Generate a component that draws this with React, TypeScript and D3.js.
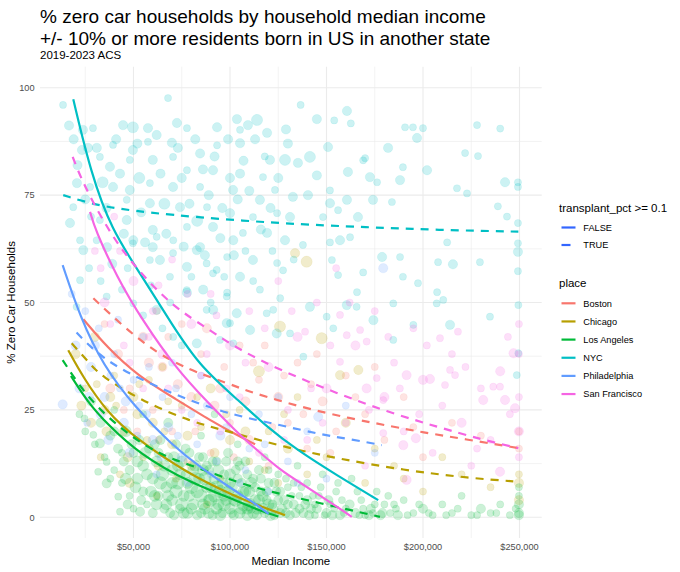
import React from "react";
import * as d3 from "d3";

// places and ggplot hue colours
const places = ["Boston", "Chicago", "Los Angeles", "NYC", "Philadelphia", "San Francisco"];
const placeColors = ["#F8766D", "#B79F00", "#00BA38", "#00BFC4", "#619CFF", "#F564E3"];

const xTicks = [50, 100, 150, 200, 250]; // $k
const xMinor = [25, 75, 125, 175, 225];
const yTicks = [0, 25, 50, 75, 100];
const yMinor = [12.5, 37.5, 62.5, 87.5];

// tract points: [median income $k, % zero car, size class]
type Pt = [number, number, number];

const bostonPts: Pt[] = [
  [35, 45, 2], [42, 38, 3], [48, 30, 2], [55, 42, 3], [60, 25, 2], [65, 35, 3], [70, 20, 2], [75, 45, 2],
  [80, 28, 3], [85, 38, 2], [90, 15, 2], [95, 30, 3], [100, 22, 2], [105, 40, 2], [110, 18, 3], [115, 32, 2],
  [120, 12, 2], [125, 28, 3], [130, 22, 2], [135, 36, 2], [140, 16, 2], [148, 27, 3], [155, 20, 2], [160, 33, 2],
  [170, 24, 2], [180, 18, 2], [190, 28, 2], [200, 14, 2], [215, 22, 2], [230, 19, 2], [249.7, 16, 2], [249.7, 20, 2],
  [62, 48, 2], [88, 44, 3], [118, 40, 2], [142, 31, 2], [52, 20, 2], [78, 13, 2],
  [38, 30, 3], [45, 25, 2], [58, 36, 3], [63, 18, 2], [68, 42, 2], [73, 31, 3], [82, 20, 2], [92, 26, 3],
  [97, 35, 2], [102, 14, 2], [108, 27, 3], [112, 36, 2], [122, 21, 2], [128, 33, 2], [138, 24, 2], [145, 38, 2],
  [152, 15, 2], [165, 28, 2], [175, 35, 2], [195, 21, 2]
];

const chicagoPts: Pt[] = [
  [20, 38, 3], [25, 30, 2], [30, 42, 3], [35, 25, 3], [40, 33, 2], [45, 20, 3], [50, 28, 3], [55, 14, 2],
  [60, 22, 3], [65, 35, 2], [70, 17, 3], [75, 26, 2], [80, 12, 3], [85, 21, 2], [90, 30, 3], [95, 9, 2],
  [100, 18, 3], [105, 25, 2], [110, 13, 2], [115, 34, 4], [120, 20, 2], [125, 8, 2], [130, 16, 3], [135, 28, 2],
  [140, 10, 2], [150, 14, 2], [160, 22, 3], [170, 8, 2], [185, 12, 2], [200, 6, 2], [220, 10, 2],
  [249.7, 4, 3], [249.7, 8, 3], [249.7, 10, 2], [139.7, 59.5, 4], [133.7, 61.5, 3], [125.9, 44.4, 4],
  [147.5, 41.7, 4], [166.5, 34.3, 3], [157, 33.1, 3], [48, 8, 3], [62, 5, 2], [88, 3, 2],
  [28, 22, 3], [33, 14, 2], [38, 28, 3], [43, 10, 2], [52, 24, 3], [58, 32, 2], [63, 12, 3], [68, 27, 2],
  [72, 9, 2], [78, 19, 3], [83, 28, 2], [92, 15, 3], [98, 24, 2], [108, 20, 3], [118, 11, 2], [128, 24, 2],
  [145, 18, 2], [175, 16, 2], [190, 9, 2], [210, 14, 2], [235, 7, 2],
  [23, 26, 3], [31, 31, 2], [36, 20, 3], [41, 26, 2], [47, 14, 3], [53, 31, 2], [57, 18, 2], [66, 20, 2]
];

const laPts: Pt[] = [
  [22, 24, 2], [25, 20, 2], [28, 27, 3], [30, 17, 2], [33, 22, 3], [35, 14, 2], [38, 19, 3], [40, 11, 2],
  [40, 25, 2], [42, 16, 3], [44, 8, 2], [45, 13, 3], [46, 20, 4], [48, 5, 2], [48, 11, 3], [50, 15, 3],
  [50, 2, 2], [52, 9, 4], [53, 18, 3], [55, 12, 4], [55, 6, 3], [57, 3, 2], [58, 16, 3], [60, 9, 4],
  [60, 1, 3], [62, 13, 4], [63, 5, 3], [64, 18, 3], [65, 10, 5], [66, 2, 3], [67, 7, 4], [68, 14, 3],
  [70, 4, 4], [70, 11, 4], [71, 0.5, 3], [72, 17, 3], [73, 8, 5], [74, 2, 3], [75, 13, 4], [76, 5, 4],
  [77, 10, 3], [78, 1, 4], [79, 15, 3], [80, 7, 5], [81, 3, 4], [82, 12, 4], [83, 0.5, 3], [84, 9, 4],
  [85, 5, 5], [86, 14, 3], [87, 2, 4], [88, 7, 4], [89, 11, 3], [90, 4, 5], [91, 0.5, 3], [92, 9, 4],
  [93, 13, 3], [94, 3, 4], [95, 6, 5], [96, 1, 3], [97, 10, 3], [98, 4, 4], [99, 15, 3], [100, 2, 4],
  [101, 7, 4], [102, 0.5, 3], [103, 11, 3], [104, 5, 4], [105, 1, 4], [106, 8, 3], [107, 3, 5], [108, 13, 3],
  [109, 0.5, 4], [110, 6, 4], [111, 2, 3], [112, 9, 3], [113, 4, 4], [114, 0.5, 3], [115, 11, 3], [116, 6, 3],
  [117, 2, 4], [118, 14, 2], [119, 4, 3], [120, 8, 3], [121, 0.5, 4], [122, 3, 3], [124, 6, 3], [125, 10, 2],
  [126, 1, 3], [128, 4, 3], [130, 7, 2], [131, 0.5, 3], [133, 3, 3], [135, 12, 2], [136, 5, 2], [138, 1, 3],
  [140, 8, 2], [142, 2, 3], [144, 0.5, 2], [146, 5, 2], [148, 10, 2], [150, 1, 3], [152, 3, 2], [155, 6, 2],
  [157, 0.5, 3], [160, 2, 2], [163, 9, 2], [165, 1, 3], [168, 4, 2], [170, 0.5, 2], [173, 2, 3], [176, 6, 2],
  [178, 0.5, 3], [180, 3, 2], [183, 1, 2], [187, 0.5, 3], [190, 4, 2], [195, 1, 2], [200, 2, 3], [205, 0.5, 2],
  [210, 3, 2], [215, 1, 2], [220, 5, 2], [225, 0.5, 2], [230, 2, 3], [235, 1, 2], [240, 3, 2], [245, 0.5, 2],
  [249.7, 1, 3], [249.7, 3, 3], [249.7, 5, 2], [249.7, 7, 2], [249.7, 0.5, 3],
  [24.6, 23, 2], [29.2, 19.2, 2], [32.6, 17.2, 3], [36.1, 12.9, 2], [31.7, 10.6, 2], [36.1, 7.9, 3],
  [42.1, 4.8, 2], [43, 1.3, 2], [53.4, 1.3, 3], [55, 24, 2], [68, 22, 3], [85, 19, 2], [92, 24, 2], [104, 17, 2],
  [47, 3, 3], [49, 17, 3], [51, 7, 4], [54, 4, 3], [56, 15, 4], [59, 6, 4], [61, 17, 3], [62, 3, 4],
  [64, 8, 5], [66, 12, 4], [68, 5, 4], [69, 1, 3], [71, 14, 4], [72, 6, 5], [74, 10, 4], [75, 3, 5],
  [77, 16, 3], [78, 8, 4], [80, 2, 4], [81, 11, 4], [83, 6, 5], [84, 14, 3], [86, 3, 4], [87, 9, 5],
  [88, 12, 3], [89, 1, 4], [90, 7, 4], [92, 5, 5], [93, 2, 4], [94, 11, 4], [96, 8, 4], [97, 3, 5],
  [98, 13, 3], [99, 6, 4], [100, 10, 4], [101, 1, 3], [103, 4, 5], [104, 9, 3], [105, 12, 3], [106, 2, 4],
  [108, 6, 4], [109, 10, 3], [110, 3, 5], [112, 1, 4], [113, 7, 3], [115, 4, 4], [116, 9, 3], [118, 1, 3],
  [119, 6, 3], [120, 11, 2], [122, 2, 4], [123, 8, 3], [125, 4, 3], [127, 2, 3], [129, 9, 2], [130, 3, 3],
  [132, 5, 2], [134, 1, 3], [137, 7, 2], [139, 3, 3], [141, 0.5, 3], [143, 5, 2], [145, 2, 3], [147, 7, 2],
  [149, 0.5, 2], [151, 4, 3], [154, 2, 2], [156, 8, 2], [159, 1, 2], [162, 3, 3], [166, 6, 2], [169, 2, 2],
  [172, 0.5, 3], [175, 3, 2], [179, 1, 3], [182, 5, 2], [186, 2, 2], [192, 0.5, 2], [198, 3, 2], [203, 1, 2],
  [212, 0.5, 2], [218, 2, 2], [228, 0.5, 2], [238, 1, 2], [248, 2, 2],
  [46, 9, 4], [52, 13, 4], [57, 10, 4], [61, 5, 4], [63, 15, 3], [67, 3, 4], [70, 8, 4], [73, 12, 4],
  [76, 1, 4], [79, 5, 4], [82, 9, 5], [85, 1, 3], [86, 11, 4], [89, 4, 4], [91, 13, 3], [93, 7, 5],
  [95, 0.5, 4], [97, 5, 4], [100, 8, 4], [102, 4, 4], [104, 13, 3], [107, 6, 4], [109, 2, 4], [111, 8, 4],
  [114, 2, 4], [117, 5, 4], [120, 3, 4], [123, 0.5, 3], [126, 6, 3], [129, 1, 3], [133, 8, 2], [136, 2, 3],
  [140, 4, 3], [144, 3, 2], [153, 0.5, 3], [158, 4, 2], [167, 0.5, 2], [174, 1, 2], [185, 3, 2], [40, 20, 3],
  [44, 15, 2], [38, 9, 2]
];

const nycPts: Pt[] = [
  [16.6, 91.2, 3], [23.8, 90.2, 3], [29, 90.6, 2], [44.6, 91.3, 3], [49.7, 90.8, 4], [57.5, 90.6, 3], [67.9, 97.6, 2],
  [72.5, 91.8, 3], [77.7, 90.6, 2], [93.3, 90.8, 3], [103.6, 92.7, 3], [109.3, 91.3, 3], [114, 92.5, 4], [119.2, 89.5, 3],
  [105.2, 90.2, 2], [69.9, 87.2, 3], [57.5, 87.4, 2], [49.7, 85.5, 3], [39.4, 86.7, 2], [26.4, 86, 3], [23.3, 85.5, 3],
  [32.6, 83.9, 2], [37.8, 81.6, 3], [48.1, 83.2, 2], [60, 83.2, 3], [70.5, 83.9, 2], [84.5, 84.7, 3], [93.3, 86.6, 2],
  [105.2, 87.1, 3], [120.7, 83.2, 3], [77.7, 80.8, 2], [91.2, 80.8, 3], [105.2, 80, 3], [117.1, 79.2, 2], [20.7, 77.8, 3],
  [27.5, 76.9, 2], [39.4, 76.9, 3], [48.1, 76.2, 3], [58.5, 77.8, 2], [70.5, 76.9, 3], [84.5, 76.9, 2], [101.6, 76.2, 3],
  [115.5, 73.9, 3], [46.5, 73.9, 2], [58.5, 73.1, 3], [74.1, 72.2, 3], [88.1, 72.2, 2], [100, 70.8, 3], [111.9, 69.9, 2],
  [18.8, 72.2, 2], [17.1, 68.5, 3], [32.6, 69.2, 2], [46.5, 69.2, 3], [60, 66.9, 3], [77.7, 67.6, 2], [91.2, 67.6, 3],
  [106.7, 66.2, 2], [119.2, 66.2, 3], [22.3, 64.5, 2], [36.3, 62.9, 3], [49.7, 63.8, 2], [60, 62.9, 3], [70.5, 61.5, 2],
  [84.5, 62.9, 3], [98.5, 60.6, 2], [111.9, 59.9, 3], [124.4, 59.2, 2], [58.5, 59.9, 2], [77.7, 58.3, 3], [91.2, 56.8, 2],
  [105.2, 56, 3], [68.9, 56, 2], [86.1, 53, 3], [98.5, 52.3, 2], [115.5, 53, 2], [77.7, 52.3, 3],
  [93.1, 57.6, 2], [82.8, 62.2, 3], [98.3, 51.4, 2], [91.3, 48.3, 3], [100, 45.2, 2], [77.6, 52.9, 2], [63.7, 59.9, 3],
  [70.6, 64.5, 2], [62, 65.3, 2], [49.9, 64.5, 3], [30.9, 64.5, 2], [24, 62.2, 3], [22.3, 55.2, 2], [20.5, 49, 2],
  [49.9, 49.8, 2], [62, 48.3, 3], [36.1, 51.4, 2], [70.6, 42, 2], [82.8, 40.5, 3], [94.8, 41.3, 2], [103.5, 47.5, 3],
  [87.9, 59.1, 2], [101.7, 64.5, 3], [87.9, 48.3, 2], [98.3, 45.2, 3], [101.7, 40.5, 2], [110.4, 43.6, 3], [119, 47.5, 2],
  [124.2, 42.8, 3], [131.1, 42.8, 2], [141.4, 49, 3], [150.1, 46.7, 2], [153.5, 44, 2], [160.5, 49.4, 3], [165.6, 49, 2],
  [184.6, 49.8, 2], [174.3, 45.9, 3], [122.4, 48.3, 2], [138, 37.4, 2], [184.6, 41.3, 2], [195, 44.8, 2], [214, 44.8, 3],
  [234.7, 46.7, 2], [249.4, 49.4, 2], [249.4, 38.2, 2], [248.6, 33.1, 2], [207.1, 49.8, 2], [210.5, 50.6, 2],
  [136.6, 96, 2], [145, 92.7, 3], [160.6, 94.6, 3], [154, 92.4, 2], [162.6, 91.7, 2], [129, 90.3, 3], [190.7, 90.8, 2],
  [194.8, 90.8, 2], [196.9, 88.3, 3], [200, 90.6, 2], [181.9, 86, 3], [221.8, 84.8, 2], [228.5, 84.1, 2], [242.5, 78, 3],
  [249.2, 78, 2], [249.2, 76.9, 2], [217.6, 76.6, 2], [222.8, 75.4, 2], [238.8, 72.4, 2], [243.5, 70, 2], [249.2, 68.5, 2],
  [249.2, 63.8, 2], [249.2, 61.8, 3], [249.2, 57.3, 2], [215.5, 58.9, 3], [229.5, 59.4, 2], [207.8, 59.4, 2], [212.5, 64, 2],
  [202.1, 80.8, 3], [189.6, 81.5, 2], [188.1, 78.5, 3], [169, 83.1, 2], [161.1, 80.4, 3], [172.5, 79.2, 3], [176.2, 78, 2],
  [183.9, 73.4, 2], [174.1, 73.9, 3], [170, 83.6, 2], [150.8, 86.2, 3], [141.4, 83.9, 4], [135.2, 82.5, 3], [128.5, 83.2, 4],
  [145, 79.6, 3], [151.8, 76.1, 2], [151.8, 73.1, 3], [156, 71.5, 2], [160.6, 73.9, 3], [166.3, 69.9, 3], [132.6, 74.6, 3],
  [140.4, 75, 3], [123.3, 76.2, 2], [151.8, 64, 2], [157, 64.5, 3], [162.2, 65.2, 2], [152.8, 59.9, 2], [156, 56.4, 2],
  [165.8, 52.4, 2], [169, 57, 2], [178.8, 60.6, 3], [188.1, 60.6, 2], [189.6, 56, 2], [197.4, 54.5, 2], [207.3, 52.4, 2],
  [127.5, 57.5, 2], [128.5, 64.5, 3], [137.8, 63.4, 2], [148.2, 69.9, 2], [131.1, 69.9, 3], [124.4, 70.8, 2],
  [228, 91.3, 2], [240, 90.5, 2], [13.5, 96, 2],
  [19, 88, 3], [21, 82, 3], [25, 74, 3], [28, 70, 2], [31, 86, 3], [34, 78, 4], [36, 72, 3], [41, 88, 3],
  [43, 80, 3], [45, 66, 3], [47, 58, 2], [52, 87, 3], [53, 79, 4], [54, 71, 3], [56, 64, 3], [59, 54, 2],
  [62, 89, 3], [64, 80, 3], [66, 73, 4], [67, 66, 3], [69, 50, 2], [73, 86, 3], [75, 79, 3], [76, 63, 3],
  [79, 73, 3], [80, 56, 2], [82, 88, 3], [83, 69, 4], [86, 81, 3], [87, 61, 3], [89, 75, 3], [90, 50, 2],
  [92, 84, 3], [95, 65, 3], [96, 72, 3], [97, 56, 2], [99, 88, 3], [100, 79, 3], [102, 61, 3], [104, 74, 3],
  [107, 83, 3], [108, 62, 2], [110, 76, 3], [112, 55, 2], [113, 88, 3], [116, 67, 3], [118, 84, 2], [121, 72, 3],
  [122, 62, 2], [125, 79, 3], [126, 51, 2], [130, 87, 3], [133, 60, 2], [27, 58, 2], [33, 55, 2], [39, 59, 3],
  [44, 53, 2], [55, 47, 2], [65, 44, 2], [75, 40, 2]
];

const phillyPts: Pt[] = [
  [13.3, 26.3, 3], [20, 40, 3], [25, 48, 2], [28, 35, 3], [32, 44, 2], [35, 28, 3], [40, 38, 2], [45, 22, 3],
  [50, 32, 2], [55, 42, 2], [60, 18, 3], [65, 28, 2], [70, 36, 2], [75, 14, 3], [80, 24, 2], [85, 33, 2],
  [90, 10, 2], [95, 19, 3], [100, 28, 2], [105, 8, 2], [110, 16, 2], [115, 24, 2], [120, 6, 2], [130, 13, 2],
  [140, 20, 2], [150, 9, 2], [160, 26, 2], [175, 15, 2], [179.4, 58, 3], [145.7, 23.4, 3], [18, 52, 2], [42, 46, 2],
  [22, 30, 3], [26, 22, 2], [30, 40, 3], [37, 18, 3], [43, 30, 2], [48, 15, 3], [53, 26, 2], [58, 35, 2],
  [62, 10, 2], [68, 21, 3], [72, 30, 2], [78, 8, 2], [83, 17, 2], [88, 26, 2], [93, 13, 2], [98, 21, 2],
  [108, 11, 2], [118, 17, 2], [125, 28, 2], [135, 8, 2],
  [27, 28, 3], [33, 24, 3], [38, 33, 2], [46, 27, 3], [52, 19, 2], [57, 24, 2], [64, 14, 2], [73, 19, 2]
];

const sfPts: Pt[] = [
  [30, 62, 2], [35, 50, 3], [40, 70, 2], [45, 40, 2], [50, 55, 3], [55, 30, 2], [60, 48, 2], [65, 38, 3],
  [70, 60, 2], [75, 25, 2], [80, 45, 3], [85, 33, 2], [90, 52, 2], [95, 20, 2], [100, 40, 3], [105, 28, 2],
  [110, 48, 2], [115, 15, 2], [120, 35, 3], [125, 55, 2], [130, 25, 2], [135, 42, 3], [140, 18, 2], [145, 50, 2],
  [150, 30, 3], [155, 58, 2], [160, 22, 2], [165, 40, 3], [170, 12, 2], [175, 48, 2], [180, 28, 3], [185, 36, 2],
  [190, 20, 2], [195, 44, 2], [200, 32, 3], [205, 15, 2], [210, 26, 2], [215, 38, 2], [220, 22, 3], [225, 12, 2],
  [230, 30, 2], [235, 18, 2], [240, 34, 3], [245, 24, 2], [249.7, 20, 3], [249.7, 28, 2], [249.7, 38, 2],
  [249.7, 45, 2], [249.7, 14, 2], [191.5, 33.1, 3], [203.6, 32.2, 3], [211.4, 30.8, 2], [216.6, 33.1, 2],
  [231.2, 27.3, 3], [236.4, 30.4, 2], [239.9, 30.4, 2], [242.5, 27.3, 3], [247.7, 25.4, 3], [246.9, 38.2, 3],
  [239.9, 10.6, 3], [214, 34.3, 2], [208.8, 41.7, 2], [218.1, 43.2, 2], [196.3, 18.4, 3], [191.5, 8.7, 3],
  [179.4, 27.3, 2], [170.8, 30, 3], [179.4, 19.6, 2], [189.8, 16.8, 3], [157, 36.2, 2], [176, 32.4, 2],
  [160.5, 42.4, 2], [167.4, 43.6, 2], [170.8, 40.9, 2], [138.9, 43.2, 2], [157, 47.1, 2],
  [33, 58, 2], [38, 45, 2], [43, 62, 2], [48, 36, 2], [58, 42, 2], [63, 54, 2], [68, 30, 2], [78, 52, 2],
  [83, 22, 2], [88, 38, 2], [93, 47, 2], [98, 30, 2], [108, 36, 2], [118, 44, 2], [128, 18, 2], [132, 48, 2],
  [142, 30, 2], [148, 22, 2], [152, 40, 2], [162, 50, 2], [172, 25, 2], [182, 42, 2], [188, 30, 2], [198, 24, 2],
  [202, 40, 2], [222, 35, 2], [228, 16, 2], [244, 42, 2]
];

const pointSets: Pt[][] = [bostonPts, chicagoPts, laPts, nycPts, phillyPts, sfPts];

// geom_smooth curves: [median income $k, % zero car]
const bostonFalse: [number, number][] = [[24, 46.1], [36.5, 39.5], [52, 33], [72, 27.5], [90, 22.5], [103, 19.3], [113, 17]];
const bostonTrue: [number, number][] = [[29.2, 51], [44.7, 44.4], [62, 38.2], [79.3, 34.3], [91.3, 32.4], [103.5, 30.4], [110.4, 29.2], [136.3, 25.7], [162.2, 23], [184.6, 21.1], [198.4, 19.9], [224.3, 18], [249.4, 16.1]];
const chicagoFalse: [number, number][] = [[16.2, 38.9], [24, 32.5], [36.1, 24.6], [51, 18.4], [78, 10.2], [103, 4.8], [118, 2.2], [128.5, 0.5]];
const chicagoTrue: [number, number][] = [[18, 40.5], [27.4, 35.8], [32.6, 33.1], [53.4, 27.3], [79.3, 22.3], [100, 19.9], [127.6, 16.4], [155.3, 13.7], [189.8, 11], [224.3, 9.1], [249.4, 8.3]];
const laFalse: [number, number][] = [[17.6, 32.9], [26, 27], [36.1, 21.8], [53.4, 14.6], [79.3, 8], [105.2, 3.6], [115.5, 1.5], [125, 0.2]];
const laTrue: [number, number][] = [[13.3, 36.6], [29.2, 25.7], [58.6, 15.3], [79.3, 12.2], [105.2, 7.9], [120.7, 6], [146.6, 3.3], [177.7, 0.1]];
const nycFalse: [number, number][] = [[18.8, 97.3], [28, 80], [38.7, 66.9], [53.4, 56.8], [70.6, 44.4], [84.5, 35.1], [105.2, 26.9], [119, 21.1], [134.6, 15.7], [155.3, 9.8], [176.8, 4]];
const nycTrue: [number, number][] = [[13.6, 75], [32.6, 72.3], [67.2, 70.4], [125, 68.4], [172.5, 67.5], [207.1, 66.9], [249.4, 66.5]];
const phillyFalse: [number, number][] = [[13.3, 58.7], [22.3, 46.7], [34, 35.5], [51, 25.5], [70, 16.8], [85, 11.5], [102, 6.3], [112, 3.5], [120, 0.8]];
const phillyTrue: [number, number][] = [[20.5, 43], [30.9, 38.2], [46.5, 33.5], [79.3, 27], [103.5, 23.6], [125.9, 21.5], [146.6, 19.3], [162.2, 18.2], [178.6, 16.8]];
const sfFalse: [number, number][] = [[27.5, 71.1], [30.1, 67], [41.3, 56], [55.1, 45.5], [72.4, 34.5], [87.9, 27], [103.5, 19.8], [112.1, 16.4], [125.9, 11], [138, 7.6], [155.3, 2.5], [163.1, 0.1]];
const sfTrue: [number, number][] = [[18.5, 83.9], [23.8, 77.7], [38.7, 65.3], [53.4, 56.9], [70.6, 49], [89.6, 43.6], [103.5, 39.3], [127.6, 33.9], [155.3, 28.9], [181.2, 24.6], [207.1, 21.1], [231.2, 18], [249.4, 16.1]];

const fits = [
  { place: 0, dashed: false, pts: bostonFalse }, { place: 0, dashed: true, pts: bostonTrue },
  { place: 1, dashed: false, pts: chicagoFalse }, { place: 1, dashed: true, pts: chicagoTrue },
  { place: 2, dashed: false, pts: laFalse }, { place: 2, dashed: true, pts: laTrue },
  { place: 3, dashed: false, pts: nycFalse }, { place: 3, dashed: true, pts: nycTrue },
  { place: 4, dashed: false, pts: phillyFalse }, { place: 4, dashed: true, pts: phillyTrue },
  { place: 5, dashed: false, pts: sfFalse }, { place: 5, dashed: true, pts: sfTrue },
];

const W = 680;
const H = 572;
const panel = { left: 40, right: 541.7, top: 66.7, bottom: 538 };
const font = "'Liberation Sans', Arial, Helvetica, sans-serif";

export default function App() {
  const x = d3.scaleLinear().domain([1.56, 261.5]).range([panel.left, panel.right]);
  const y = d3.scaleLinear().domain([-4.82, 104.9]).range([panel.bottom, panel.top]);
  const r = d3.scaleSqrt().domain([1, 5]).range([2.2, 6.4]);
  const line = d3.line<[number, number]>().x(d => x(d[0])).y(d => y(d[1])).curve(d3.curveBasis);
  const dollars = d3.format("$,");

  return (
    <div style={{ position: "absolute", left: 0, top: 0 }}>
      <svg width={W} height={H} style={{ display: "block", background: "#fff" }} fontFamily={font}>
        {/* grid */}
        <g>
          {xMinor.map(v => (
            <line key={"xm" + v} x1={x(v)} x2={x(v)} y1={panel.top} y2={panel.bottom} stroke="#EBEBEB" strokeWidth={0.6} />
          ))}
          {yMinor.map(v => (
            <line key={"ym" + v} x1={panel.left} x2={panel.right} y1={y(v)} y2={y(v)} stroke="#EBEBEB" strokeWidth={0.6} />
          ))}
          {xTicks.map(v => (
            <line key={"x" + v} x1={x(v)} x2={x(v)} y1={panel.top} y2={panel.bottom} stroke="#EBEBEB" strokeWidth={1.1} />
          ))}
          {yTicks.map(v => (
            <line key={"y" + v} x1={panel.left} x2={panel.right} y1={y(v)} y2={y(v)} stroke="#EBEBEB" strokeWidth={1.1} />
          ))}
        </g>

        {/* points */}
        <g>
          {pointSets.map((set, i) =>
            set.map((p, j) => (
              <circle key={i + "-" + j} cx={x(p[0])} cy={y(p[1])} r={r(p[2])}
                fill={placeColors[i]} fillOpacity={0.2} stroke={placeColors[i]} strokeOpacity={0.14} strokeWidth={0.6} />
            ))
          )}
        </g>

        {/* fitted curves */}
        <g fill="none">
          {fits.map((f, i) => (
            <path key={i} d={line(f.pts) || ""} stroke={placeColors[f.place]} strokeWidth={2.2}
              strokeDasharray={f.dashed ? "8,7" : undefined} />
          ))}
        </g>

        {/* axes text */}
        <g fontSize={9.2} fill="#4D4D4D">
          {xTicks.map(v => (
            <text key={"xl" + v} x={x(v)} y={550} textAnchor="middle">{dollars(v * 1000)}</text>
          ))}
          {yTicks.map(v => (
            <text key={"yl" + v} x={34.5} y={y(v) + 3.3} textAnchor="end">{v}</text>
          ))}
        </g>
        <text x={(panel.left + panel.right) / 2} y={565} textAnchor="middle" fontSize={11.5} fill="#000">Median Income</text>
        <text transform={`translate(15,${(panel.top + panel.bottom) / 2}) rotate(-90)`} textAnchor="middle" fontSize={11.5} fill="#000">% Zero Car Households</text>

        {/* titles */}
        <text x={40} y={22.5} fontSize={19} fill="#000">% zero car households by household median income</text>
        <text x={40} y={44.5} fontSize={19} fill="#000">+/- 10% or more residents born in US in another state</text>
        <text x={40} y={58.5} fontSize={11.5} fill="#000">2019-2023 ACS</text>

        {/* legends */}
        <g>
          <text x={559} y={212} fontSize={11.5} fill="#000">transplant_pct &gt;= 0.1</text>
          {["FALSE", "TRUE"].map((lab, i) => (
            <g key={lab} transform={`translate(0,${227.5 + i * 17.5})`}>
              <line x1={561.5} x2={575.5} y1={0} y2={0} stroke="#3366FF" strokeWidth={2.2}
                strokeDasharray={i === 1 ? "9,7" : undefined} />
              <text x={583.3} y={3.3} fontSize={9.2} fill="#000">{lab}</text>
            </g>
          ))}
          <text x={559} y={286.5} fontSize={11.5} fill="#000">place</text>
          {places.map((p, i) => (
            <g key={p} transform={`translate(0,${303.3 + i * 18.15})`}>
              <line x1={561.5} x2={575.5} y1={0} y2={0} stroke={placeColors[i]} strokeWidth={2.2} />
              <text x={583.3} y={3.3} fontSize={9.2} fill="#000">{p}</text>
            </g>
          ))}
        </g>
      </svg>
    </div>
  );
}
